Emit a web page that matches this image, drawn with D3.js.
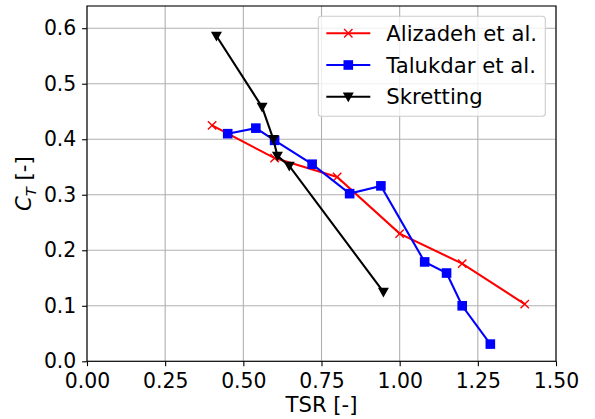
<!DOCTYPE html>
<html>
<head>
  <meta charset="utf-8">
  <title>CT vs TSR</title>
  <style>
    body { margin: 0; background: #fff; }
    text { font-family: "DejaVu Sans", sans-serif; }
  </style>
</head>
<body>
  <div id="plot"></div>
  <script src="https://cdn.jsdelivr.net/npm/d3@7"></script>
  <script>

    function translate(x, y) {
      return 'translate(' + x + ', ' + y + ')';
    }

    // data
    let alizadehTSR = [0.40, 0.60, 0.80, 1.00, 1.20, 1.40];
    let alizadehCT  = [0.425, 0.366, 0.332, 0.230, 0.176, 0.103];

    let talukdarTSR = [0.45, 0.54, 0.60, 0.72, 0.84, 0.94, 1.08, 1.15, 1.20, 1.29];
    let talukdarCT  = [0.410, 0.420, 0.398, 0.355, 0.302, 0.316, 0.179, 0.159, 0.100, 0.031];

    let skrettingTSR = [0.414, 0.56, 0.596, 0.609, 0.647, 0.948];
    let skrettingCT  = [0.586, 0.458, 0.400, 0.370, 0.352, 0.125];

    let xTicks = [0, 0.25, 0.5, 0.75, 1.0, 1.25, 1.5];
    let yTicks = [0, 0.1, 0.2, 0.3, 0.4, 0.5, 0.6];

    let series = [
      {name: 'Alizadeh et al.', color: 'red', marker: 'x',
        values: alizadehTSR.map((d, i) => [d, alizadehCT[i]])},
      {name: 'Talukdar et al.', color: 'blue', marker: 'square',
        values: talukdarTSR.map((d, i) => [d, talukdarCT[i]])},
      {name: 'Skretting', color: 'black', marker: 'tri',
        values: skrettingTSR.map((d, i) => [d, skrettingCT[i]])}
    ];

    let svgWidth = 595;
    let svgHeight = 419;
    let margin = {top: 6, right: 39, bottom: 57.7, left: 87};
    let width = svgWidth - margin.left - margin.right;
    let height = svgHeight - margin.top - margin.bottom;
    let tickFont = 20.4;
    let labelFont = 21.2;

    let svg = d3.select('#plot')
      .append('svg')
        .attr('width', svgWidth)
        .attr('height', svgHeight)
        .append('g')
          .attr('transform', translate(margin.left, margin.top));

    let x = d3.scaleLinear().domain([0, 1.5]).range([0, width]);
    let y = d3.scaleLinear().domain([0, 0.64]).range([height, 0]);

    // grid
    svg.append('g')
      .selectAll('line')
      .data(xTicks)
      .enter()
      .append('line')
        .attr('x1', d => x(d)).attr('x2', d => x(d))
        .attr('y1', 0).attr('y2', height)
        .style('stroke', '#b0b0b0').style('stroke-width', 1.1);

    svg.append('g')
      .selectAll('line')
      .data(yTicks)
      .enter()
      .append('line')
        .attr('x1', 0).attr('x2', width)
        .attr('y1', d => y(d)).attr('y2', d => y(d))
        .style('stroke', '#b0b0b0').style('stroke-width', 1.1);

    // axes
    let xAxis = d3.axisBottom(x).tickValues(xTicks).tickFormat(d3.format('.2f'))
      .tickSizeOuter(0).tickSize(4.9).tickPadding(7);
    let yAxis = d3.axisLeft(y).tickValues(yTicks).tickFormat(d3.format('.1f'))
      .tickSizeOuter(0).tickSize(4.9).tickPadding(5.8);

    svg.append('g')
      .attr('transform', translate(0, height))
      .call(xAxis)
      .call(g => g.select('.domain').remove())
      .selectAll('text')
        .style('font-size', tickFont + 'px')
        .style('fill', 'black');

    svg.append('g')
      .call(yAxis)
      .call(g => g.select('.domain').remove())
      .selectAll('text')
        .style('font-size', tickFont + 'px')
        .style('fill', 'black');

    svg.selectAll('.tick line').style('stroke', 'black').style('stroke-width', 1.1);

    // lines and markers
    let line = d3.line().x(d => x(d[0])).y(d => y(d[1]));

    let triPath = 'M-5.5,-4.2L5.5,-4.2L0,5.5Z';

    function drawMarker(g, marker, color) {
      if (marker === 'x') {
        g.append('path')
          .attr('d', 'M-4.2,-4.2L4.2,4.2M-4.2,4.2L4.2,-4.2')
          .style('stroke', color).style('stroke-width', 1.4).style('fill', 'none');
      } else if (marker === 'square') {
        g.append('rect')
          .attr('x', -4.8).attr('y', -4.8)
          .attr('width', 9.6).attr('height', 9.6)
          .style('fill', color);
      } else {
        g.append('path')
          .attr('d', triPath)
          .style('fill', color);
      }
    }

    series.forEach(s => {
      svg.append('path')
        .datum(s.values)
        .attr('d', line)
        .style('fill', 'none')
        .style('stroke', s.color)
        .style('stroke-width', 2.1);

      svg.append('g')
        .selectAll('g')
        .data(s.values)
        .enter()
        .append('g')
          .attr('transform', d => translate(x(d[0]), y(d[1])))
          .each(function() { drawMarker(d3.select(this), s.marker, s.color); });
    });

    // frame
    svg.append('rect')
      .attr('width', width).attr('height', height)
      .style('fill', 'none').style('stroke', 'black').style('stroke-width', 1.1);

    // legend
    let legend = svg.append('g').attr('transform', translate(231.3, 10.3));
    legend.append('rect')
      .attr('width', 227).attr('height', 100)
      .attr('rx', 3)
      .style('fill', 'white').style('fill-opacity', 0.8)
      .style('stroke', '#cccccc').style('stroke-width', 1.1);

    let entry = legend.selectAll('.entry')
      .data(series)
      .enter()
      .append('g')
        .attr('transform', (d, i) => translate(0, 17 + i * 31.7));

    entry.append('line')
      .attr('x1', 8).attr('x2', 52)
      .style('stroke', d => d.color).style('stroke-width', 2.1);

    entry.append('g')
      .attr('transform', translate(30, 0))
      .each(function(d) { drawMarker(d3.select(this), d.marker, d.color); });

    entry.append('text')
      .attr('x', 68)
      .attr('dy', '0.36em')
      .style('font-size', labelFont + 'px')
      .text(d => d.name);

    // axis labels
    svg.append('text')
      .attr('x', width / 2)
      .attr('y', height + 50.7)
      .style('text-anchor', 'middle')
      .style('font-size', labelFont + 'px')
      .text('TSR [-]');

    let yl = svg.append('text')
      .attr('transform', translate(-56, height / 2) + ' rotate(-90)')
      .style('text-anchor', 'middle')
      .style('font-size', labelFont + 'px');
    yl.append('tspan').style('font-style', 'italic').text('C');
    yl.append('tspan').attr('dy', 4.5).style('font-size', '14.8px').style('font-style', 'italic').text('T');
    yl.append('tspan').attr('dy', -4.5).text(' [-]');

  </script>
</body>
</html>
